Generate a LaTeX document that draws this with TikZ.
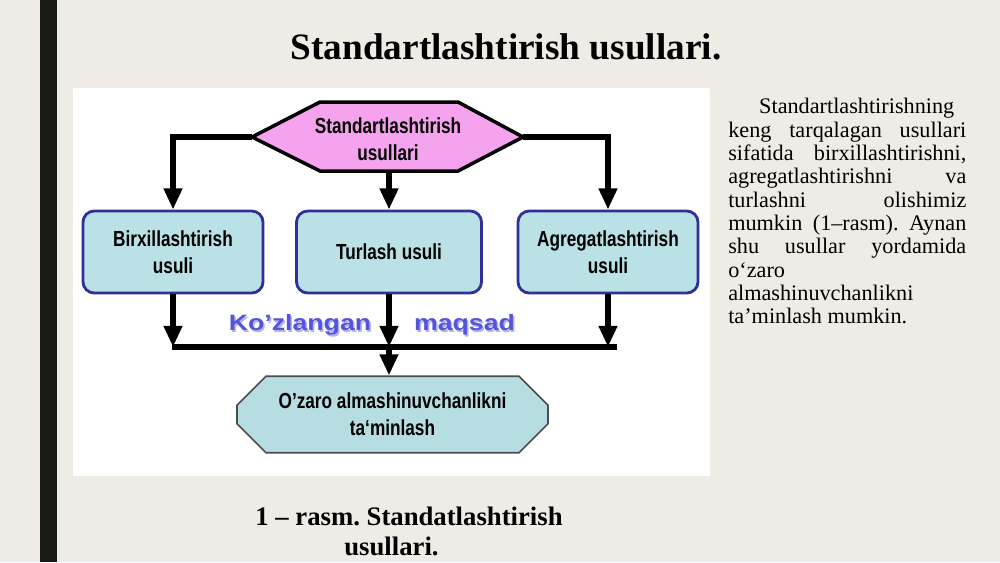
\documentclass[tikz,border=0pt]{standalone}
\usepackage{fontspec}
\setmainfont{Liberation Serif}
\newfontfamily\diagfont[FakeStretch=0.79]{Liberation Sans}
\newfontfamily\widefont[FakeStretch=1.2]{Liberation Sans}
\usetikzlibrary{positioning,arrows.meta,shapes.misc}
\definecolor{slidebg}{RGB}{239,236,229}
\definecolor{barcol}{RGB}{26,26,20}
\definecolor{hexpink}{RGB}{245,163,238}
\definecolor{boxcyan}{RGB}{186,225,229}
\definecolor{boxblue}{RGB}{48,48,150}
\definecolor{goalcyan}{RGB}{182,222,226}
\definecolor{aimblue}{RGB}{85,85,220}
\definecolor{aimshade}{RGB}{178,178,236}
\frenchspacing

\begin{document}
\begin{tikzpicture}[
  x=0.025cm,y=-0.025cm,
  dtext/.style={font=\diagfont\bfseries\fontsize{15.5}{19}\selectfont,
                align=center,text=black},
  method/.style={dtext,draw=boxblue,line width=2pt,fill=boxcyan,rounded corners=8pt,
                 minimum width=4.5cm,minimum height=2.05cm,inner sep=2pt},
  goalbox/.style={dtext,chamfered rectangle,chamfered rectangle xsep=0.375cm,
                 chamfered rectangle ysep=0.35cm,draw=black!70,line width=1.2pt,
                 fill=goalcyan,minimum width=7.775cm,minimum height=1.675cm,inner sep=2pt},
  conn/.style={line width=4pt,line join=miter,-{Triangle[width=12.5pt,length=15pt]}},
  bar/.style={line width=4pt},
  aim/.style={font=\widefont\bfseries\fontsize{15.8}{18}\selectfont,anchor=base},
  caption/.style={font=\bfseries\fontsize{19}{22}\selectfont,anchor=base},
]
  % slide background
  \fill[slidebg] (0,0) rectangle (1000,562);
  \fill[barcol] (40,0) rectangle (57,562);
  \fill[white] (73,88) rectangle (710,476);

  \node[font=\bfseries\fontsize{26.5}{30}\selectfont,anchor=base] (title) at (506,59)
    {Standartlashtirish usullari.};

  % methods
  \node[method] (birx) at (173,252) {Birxillashtirish\\usuli};
  \node[method,minimum width=4.625cm] (turl) at (389,252) {Turlash usuli};
  \node[method] (agreg) at (608,252) {Agregatlashtirish\\usuli};
  \node[goalbox] (goal) at (392.5,414.5) {O’zaro almashinuvchanlikni\\ta‘minlash};

  \coordinate (stdW) at (252,137);
  \coordinate (stdE) at (523,137);
  \coordinate (stdS) at (389,171);
  \coordinate (barL) at (172,347);
  \coordinate (barR) at (617,347);

  \draw[conn] (stdW) -| (birx.north);
  \draw[conn] (stdS) -- (turl.north);
  \draw[conn] (stdE) -| (agreg.north);

  % hexagon on top of the lines
  \draw[line width=2.5pt,line join=miter,fill=hexpink]
    (stdW) -- (320,102) -- (458,102) -- (stdE) -- (458,171) -- (320,171) -- cycle;
  \node[dtext] (std) at (388,139) {Standartlashtirish\\usullari};

  \draw[bar] (barL) -- (barR);
  \draw[conn] (birx.south) -- (birx.south |- barL);
  \draw[conn] (turl.south) -- (turl.south |- barL);
  \draw[conn] (agreg.south) -- (agreg.south |- barL);
  \draw[conn] (turl.south |- barL) -- (turl.south |- goal.north);

  \node[aim,text=aimshade] (aimAs) at (301.5,332) {Ko’zlangan};
  \node[aim,text=aimblue]  (aimA)  at (300,330.5) {Ko’zlangan};
  \node[aim,text=aimshade] (aimBs) at (466,332) {maqsad};
  \node[aim,text=aimblue]  (aimB)  at (464.5,330.5) {maqsad};

  % text on the right
  \node[anchor=north west,text width=5.95cm,align=justify,inner sep=0pt,
        font=\fontsize{15.8}{16.6}\selectfont] (para) at (728,98)
    {\hspace*{22pt}Standartlashtirishning\newline
     keng tarqalagan usullari\linebreak
     sifatida birxillashtirishni,\linebreak
     agregatlashtirishni va\linebreak
     turlashni olishimiz\linebreak
     mumkin (1–rasm). Aynan\linebreak
     shu usullar yordamida\linebreak
     o‘zaro\newline
     almashinuvchanlikni\newline
     ta’minlash mumkin.};

  \node[caption] (capA) at (409,525) {1 – rasm. Standatlashtirish};
  \node[caption] (capB) at (391.5,555) {usullari.};
\end{tikzpicture}
\end{document}
